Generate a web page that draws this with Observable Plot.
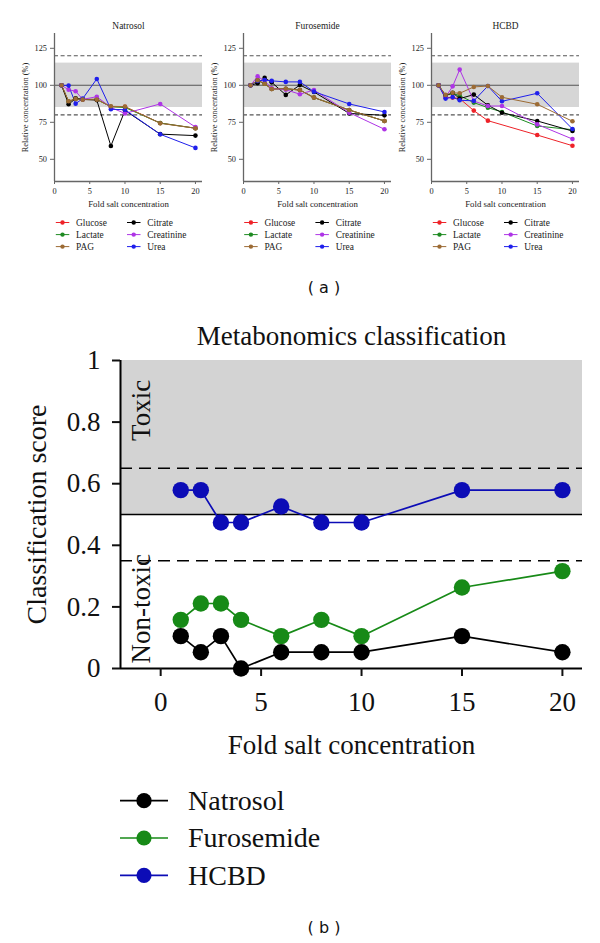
<!DOCTYPE html>
<html><head><meta charset="utf-8">
<script src="https://cdn.jsdelivr.net/npm/d3@7"></script>
<script src="https://cdn.jsdelivr.net/npm/@observablehq/plot@0.6"></script>
<style>
body{margin:0;background:#fff;}
#page{position:relative;width:600px;height:943px;overflow:hidden;background:#fff;}
#page > svg{position:absolute;margin:0;max-width:none;}
#page text{font-family:"Liberation Serif","Times New Roman",serif;}
#page text.sans{font-family:"DejaVu Sans",sans-serif;}
</style></head><body><div id="page"></div>
<script>
// ---------- Panel (a) data ----------
const folds = [1, 2, 3, 4, 6, 8, 10, 15, 20];
const panelNames = ["Natrosol", "Furosemide", "HCBD"];
const metabolites = ["Glucose", "Lactate", "Citrate", "Creatinine", "Urea", "PAG"]; // drawing order
const metaboliteColors = ["#ee2228", "#1e8a22", "#000000", "#ae34e6", "#1f1fec", "#9c6b34"];
const legendColumns = [["Glucose", "Lactate", "PAG"], ["Citrate", "Creatinine", "Urea"]];

const natrosolGlucose    = [100, 89.0, 91.0, 90.5, 90.5, 85.5, 85.5, 74.5, 71.0];
const natrosolLactate    = [100, 89.0, 91.0, 90.5, 90.5, 85.5, 85.0, 74.5, 71.0];
const natrosolCitrate    = [100, 87.2, 91.0, 90.5, 90.0, 59.0, 83.0, 67.0, 66.0];
const natrosolCreatinine = [100, 97.0, 96.0, 90.5, 92.3, 85.0, 81.0, 87.4, 71.8];
const natrosolUrea       = [100, 99.8, 87.6, 91.0, 104.3, 83.8, 83.5, 66.9, 57.7];
const natrosolPAG        = [100, 89.2, 90.8, 90.3, 90.3, 85.8, 85.6, 74.3, 71.0];

const furosemideGlucose    = [100, 103.4, 101.0, 97.5, 97.7, 96.8, 91.7, 83.3, 75.9];
const furosemideLactate    = [100, 103.4, 101.0, 97.5, 97.7, 96.8, 91.7, 83.3, 75.9];
const furosemideCitrate    = [100, 101.4, 105.0, 102.0, 93.5, 100.2, 95.5, 81.0, 79.7];
const furosemideCreatinine = [100, 106.0, 103.0, 98.0, 97.0, 94.0, 96.8, 81.5, 70.3];
const furosemideUrea       = [100, 103.0, 103.5, 103.0, 102.3, 102.3, 95.7, 87.4, 82.0];
const furosemidePAG        = [100, 103.4, 101.0, 97.5, 97.7, 96.8, 91.7, 83.3, 75.9];

const hcbdGlucose    = [100, 91.7, 91.7, 91.0, 82.9, 76.1, null, 66.4, 59.2];
const hcbdLactate    = [100, 93.0, 94.6, 93.0, 88.3, 84.9, 82.0, 72.5, 70.0];
const hcbdCitrate    = [100, 93.0, 95.0, 91.0, 93.7, 86.5, 81.5, 75.9, 69.1];
const hcbdCreatinine = [100, 92.0, 99.3, 110.6, 89.4, 86.0, 86.0, 73.6, 63.7];
const hcbdUrea       = [100, 91.0, 92.0, 89.9, 89.5, 99.5, 89.2, 94.6, 70.5];
const hcbdPAG        = [100, 93.5, 95.0, 94.6, 98.9, 99.5, 91.9, 87.2, 75.7];

const panelSeries = {
  Natrosol:   {Glucose: natrosolGlucose, Lactate: natrosolLactate, Citrate: natrosolCitrate, Creatinine: natrosolCreatinine, Urea: natrosolUrea, PAG: natrosolPAG},
  Furosemide: {Glucose: furosemideGlucose, Lactate: furosemideLactate, Citrate: furosemideCitrate, Creatinine: furosemideCreatinine, Urea: furosemideUrea, PAG: furosemidePAG},
  HCBD:       {Glucose: hcbdGlucose, Lactate: hcbdLactate, Citrate: hcbdCitrate, Creatinine: hcbdCreatinine, Urea: hcbdUrea, PAG: hcbdPAG}
};
const relTicks = [50, 75, 100, 125];
const foldTicks = [0, 5, 10, 15, 20];
const relDomain = [35, 135];
const foldDomainA = [0, 21];
const acceptBand = [85, 115];
const limitLines = [80, 120];
const referenceLine = 100;

// ---------- Panel (b) data ----------
const drugs = ["Natrosol", "Furosemide", "HCBD"];
const drugColors = ["#000000", "#178a17", "#0c0cb6"];
const natrosolScore   = [0.105, 0.053, 0.105, 0.000, 0.053, 0.053, 0.053, 0.105, 0.053];
const furosemideScore = [0.158, 0.211, 0.211, 0.158, 0.105, 0.158, 0.105, 0.263, 0.316];
const hcbdScore       = [0.579, 0.579, 0.474, 0.474, 0.526, 0.474, 0.474, 0.579, 0.579];
const scoreTicks = [0, 0.2, 0.4, 0.6, 0.8, 1];
const scoreDomain = [0, 1];
const foldDomainB = [-2, 21];
const toxicRegion = [0.5, 1];
const thresholdLine = 0.5;
const dashedThresholds = [0.35, 0.65];
const zoneLabels = [{label: "Toxic", fold: -0.95, score: 0.838}, {label: "Non-toxic", fold: -0.95, score: 0.194}];

const page = document.getElementById("page");
const SERIF = "Liberation Serif, Times New Roman, serif";
const colorOf = Object.fromEntries(metabolites.map((m, i) => [m, metaboliteColors[i]]));

// ---------- Draw panel (a) ----------
const panelLeft = [4.3, 192.7, 381.3];
panelNames.forEach((name, p) => {
  const rows = [];
  metabolites.forEach(m => {
    panelSeries[name][m].forEach((v, i) => { if (v != null) rows.push({metabolite: m, fold: folds[i], value: v}); });
  });
  const chart = Plot.plot({
    width: 200, height: 215,
    marginLeft: 50, marginRight: 2, marginTop: 33, marginBottom: 34,
    x: {domain: foldDomainA},
    y: {domain: relDomain},
    color: {domain: metabolites, range: metaboliteColors},
    style: {background: "transparent", fontFamily: SERIF, fontSize: "8.3px", color: "#222", overflow: "visible"},
    marks: [
      Plot.rect([{x1: foldDomainA[0], x2: foldDomainA[1], y1: acceptBand[0], y2: acceptBand[1]}], {x1: "x1", x2: "x2", y1: "y1", y2: "y2", fill: "#d6d6d6", inset: 0}),
      Plot.ruleY([referenceLine], {stroke: "#555", strokeWidth: 1.1}),
      Plot.ruleY(limitLines, {stroke: "#555", strokeWidth: 1.1, strokeDasharray: "4,2.6"}),
      Plot.ruleX([foldDomainA[0]], {stroke: "#666", strokeWidth: 1.3}),
      Plot.ruleY([relDomain[0]], {stroke: "#666", strokeWidth: 1.3}),
      Plot.axisX({ticks: foldTicks, tickSize: 3, tickPadding: 4, label: null, stroke: "#666"}),
      Plot.axisY({ticks: relTicks, tickSize: 4, tickPadding: 3.5, label: null, stroke: "#666"}),
      Plot.line(rows, {x: "fold", y: "value", stroke: "metabolite", z: "metabolite", strokeWidth: 1}),
      Plot.dot(rows, {x: "fold", y: "value", fill: "metabolite", r: 2.3}),
      Plot.text([name], {text: d => d, frameAnchor: "top", lineAnchor: "middle", dy: -8, fontSize: 9.4}),
      Plot.text(["Fold salt concentration"], {text: d => d, frameAnchor: "bottom", lineAnchor: "middle", dy: 22.5, fontSize: 8.8}),
      Plot.text(["Relative concentration (%)"], {text: d => d, frameAnchor: "left", textAnchor: "middle", lineAnchor: "middle", dx: -29, rotate: -90, fontSize: 8.3})
    ]
  });
  chart.style.left = panelLeft[p] + "px";
  chart.style.top = "0px";
  page.appendChild(chart);
});

// ---------- Draw panel (b) ----------
const scoreRows = [];
[natrosolScore, furosemideScore, hcbdScore].forEach((arr, d) => {
  arr.forEach((v, i) => scoreRows.push({drug: drugs[d], fold: folds[i], score: v}));
});
const chartB = Plot.plot({
  width: 600, height: 470,
  marginLeft: 120, marginRight: 18, marginTop: 60, marginBottom: 102,
  x: {domain: foldDomainB},
  y: {domain: scoreDomain},
  color: {domain: drugs, range: drugColors},
  style: {background: "transparent", fontFamily: SERIF, fontSize: "27px", color: "#111", overflow: "visible"},
  marks: [
    Plot.rect([{x1: foldDomainB[0], x2: foldDomainB[1], y1: toxicRegion[0], y2: toxicRegion[1]}], {x1: "x1", x2: "x2", y1: "y1", y2: "y2", fill: "#d3d3d3"}),
    Plot.ruleY(dashedThresholds, {stroke: "#000", strokeWidth: 1.6, strokeDasharray: "12,7"}),
    Plot.ruleY([thresholdLine], {stroke: "#000", strokeWidth: 1.6}),
    Plot.ruleX([foldDomainB[0]], {y1: scoreDomain[0], y2: scoreDomain[1], stroke: "#000", strokeWidth: 2}),
    Plot.ruleY([scoreDomain[0]], {stroke: "#000", strokeWidth: 2, dx: 0}),
    Plot.axisX({ticks: foldTicks, tickSize: 8, tickPadding: 15, label: null, strokeWidth: 2}),
    Plot.axisY({ticks: scoreTicks, tickSize: 8, tickPadding: 12, tickFormat: d => String(d), label: null, strokeWidth: 2}),
    Plot.text(zoneLabels, {x: "fold", y: "score", text: "label", rotate: -90, textAnchor: "middle", lineAnchor: "middle", fontSize: 27}),
    Plot.line(scoreRows, {x: "fold", y: "score", stroke: "drug", z: "drug", strokeWidth: 1.7}),
    Plot.dot(scoreRows, {x: "fold", y: "score", fill: "drug", r: 8.2}),
    Plot.text(["Metabonomics classification"], {text: d => d, frameAnchor: "top", lineAnchor: "middle", dy: -24, fontSize: 27}),
    Plot.text(["Fold salt concentration"], {text: d => d, frameAnchor: "bottom", lineAnchor: "middle", dy: 77, fontSize: 27}),
    Plot.text(["Classification score"], {text: d => d, frameAnchor: "left", textAnchor: "middle", lineAnchor: "middle", dx: -83.5, rotate: -90, fontSize: 28})
  ]
});
chartB.style.left = "0px";
chartB.style.top = "300px";
page.appendChild(chartB);

// ---------- Legends and panel labels ----------
const overlay = d3.select(page).append("svg")
  .attr("width", 600).attr("height", 943)
  .style("left", "0px").style("top", "0px").style("pointer-events", "none");

const legendRowsA = [222.5, 234.6, 246.6];
const zeroPx = [54.3, 242.7, 431.3];
zeroPx.forEach(px => {
  legendColumns.forEach((col, c) => {
    const lx = px + (c === 0 ? 1.5 : 72.7);
    col.forEach((m, r) => {
      const g = overlay.append("g").attr("transform", `translate(${lx},${legendRowsA[r]})`);
      g.append("line").attr("x1", 0).attr("x2", 13.5).attr("y1", 0).attr("y2", 0).attr("stroke", colorOf[m]).attr("stroke-width", 1);
      g.append("circle").attr("cx", 6.7).attr("cy", 0).attr("r", 2.2).attr("fill", colorOf[m]);
      g.append("text").attr("x", 20.3).attr("y", 0).attr("dy", "0.33em").attr("font-size", 9.4).attr("fill", "#222").text(m);
    });
  });
});

const legendRowsB = [800.7, 838, 875.3];
drugs.forEach((d, i) => {
  const g = overlay.append("g").attr("transform", `translate(120,${legendRowsB[i]})`);
  g.append("line").attr("x1", 0).attr("x2", 48).attr("y1", 0).attr("y2", 0).attr("stroke", drugColors[i]).attr("stroke-width", 1.7);
  g.append("circle").attr("cx", 24).attr("cy", 0).attr("r", 7.6).attr("fill", drugColors[i]);
  g.append("text").attr("x", 68).attr("y", 0).attr("dy", "0.33em").attr("font-size", 28).attr("fill", "#111").text(d);
});

[["( a )", 287], ["( b )", 927]].forEach(([t, y]) => {
  overlay.append("text").attr("class", "sans").attr("x", 324).attr("y", y).attr("dy", "0.35em").attr("text-anchor", "middle")
    .attr("font-size", 16).attr("fill", "#111").text(t);
});
</script></body></html>
